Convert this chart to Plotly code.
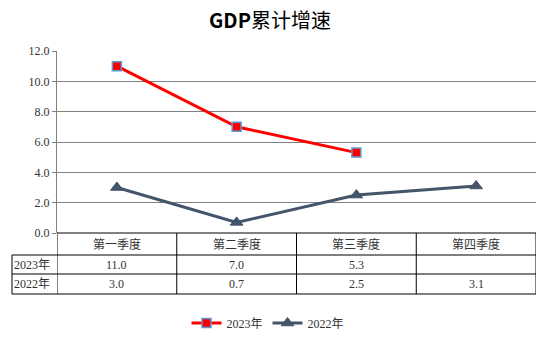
import plotly.graph_objects as go

# Quarterly cumulative GDP growth (%)
categories = ["第一季度", "第二季度", "第三季度", "第四季度"]
series_names = ["2023年", "2022年"]
values_2023 = [11.0, 7.0, 5.3, None]
values_2022 = [3.0, 0.7, 2.5, 3.1]
y_ticks = [0, 2, 4, 6, 8, 10, 12]

W, H = 547, 339
SERIF = "Liberation Serif, Noto Sans CJK SC, serif"
TXT = "#333333"

# plot / table geometry in pixels
px_l, px_r = 57, 536
py_top, py_bot = 51, 233
row_lines = [255, 274, 294]
label_left = 12


def fx(px):
    return px / W


def fy(py):
    return 1 - py / H


fig = go.Figure()

fig.add_trace(go.Scatter(
    x=categories, y=values_2023, name=series_names[0],
    mode="lines+markers",
    line=dict(color="#FF0000", width=3),
    marker=dict(symbol="square", size=9, color="#FF0000",
                line=dict(color="#5B9BD5", width=1.5)),
))
fig.add_trace(go.Scatter(
    x=categories, y=values_2022, name=series_names[1],
    mode="lines+markers",
    line=dict(color="#44546A", width=3),
    marker=dict(symbol="triangle-up", size=11, color="#44546A",
                line=dict(color="#44546A", width=1)),
))

shapes = []
# data table grid
line_blk = dict(color="black", width=1)
shapes.append(dict(type="line", xref="x", yref="paper", x0=-0.5, x1=3.5,
                   y0=fy(py_bot), y1=fy(py_bot), line=line_blk))
for ry in row_lines:
    shapes.append(dict(type="line", xref="paper", yref="paper",
                       x0=fx(label_left), x1=fx(px_r), y0=fy(ry), y1=fy(ry),
                       line=line_blk))
shapes.append(dict(type="line", xref="paper", yref="paper",
                   x0=fx(label_left), x1=fx(label_left),
                   y0=fy(row_lines[0]), y1=fy(row_lines[-1]), line=line_blk))
for i in range(len(categories) + 1):
    shapes.append(dict(type="line", xref="x", yref="paper",
                       x0=i - 0.5, x1=i - 0.5,
                       y0=fy(py_bot), y1=fy(row_lines[-1]), line=line_blk))

annotations = []
tfont = dict(family=SERIF, size=12, color=TXT)
header_y = fy((py_bot + row_lines[0]) / 2)
row_ys = [fy((row_lines[0] + row_lines[1]) / 2),
          fy((row_lines[1] + row_lines[2]) / 2)]
for c in categories:
    annotations.append(dict(x=c, xref="x", y=header_y, yref="paper",
                            xanchor="center", yanchor="middle",
                            text=c, showarrow=False, font=tfont))
for name, vals, ry in zip(series_names, [values_2023, values_2022], row_ys):
    annotations.append(dict(x=fx(label_left), xref="paper", y=ry, yref="paper",
                            xanchor="left", yanchor="middle",
                            text=name, showarrow=False, font=tfont))
    for c, v in zip(categories, vals):
        if v is None:
            continue
        annotations.append(dict(x=c, xref="x", y=ry, yref="paper",
                                xanchor="center", yanchor="middle",
                                text=f"{v:.1f}", showarrow=False, font=tfont))

fig.update_layout(
    width=W, height=H,
    margin=dict(l=0, r=0, t=0, b=0, autoexpand=False),
    paper_bgcolor="white", plot_bgcolor="white",
    title=dict(text="<b>GDP</b>累计增速", x=fx(270), xanchor="center",
               yref="container", y=fy(21), yanchor="middle",
               font=dict(family="Noto Sans CJK SC, sans-serif", size=20, color="black")),
    xaxis=dict(domain=[fx(px_l), fx(px_r)], type="category",
               range=[-0.5, 3.5], showticklabels=False, showgrid=False,
               zeroline=False, showline=False, ticks=""),
    yaxis=dict(domain=[fy(py_bot), fy(py_top)], range=[0, 12],
               tickvals=y_ticks, ticktext=[f"{t:.1f}" for t in y_ticks],
               showgrid=True, gridcolor="#808080", gridwidth=1,
               zeroline=False, showline=True, linecolor="#808080", linewidth=1,
               ticks="outside", ticklen=4, tickcolor="#808080",
               tickfont=dict(family=SERIF, size=12, color=TXT)),
    legend=dict(orientation="h", x=fx(268), xanchor="center",
                yref="container", y=fy(323), yanchor="middle",
                font=dict(family=SERIF, size=12, color=TXT),
                itemwidth=30, tracegroupgap=0),
    showlegend=True,
    shapes=shapes,
    annotations=annotations,
)

fig.write_html("out.html")
